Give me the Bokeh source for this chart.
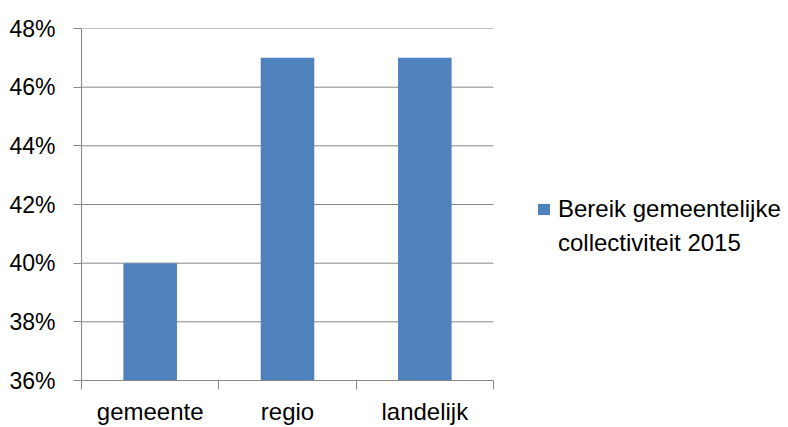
from bokeh.plotting import figure
from bokeh.models import FixedTicker, NumeralTickFormatter, Range1d, Legend, LegendItem, ColumnDataSource
from bokeh.embed import file_html
from bokeh.resources import INLINE

categories = ["gemeente", "regio", "landelijk"]
values = [0.40, 0.47, 0.47]
series_label_lines = ["Bereik gemeentelijke", "collectiviteit 2015"]
y_ticks = [0.36, 0.38, 0.40, 0.42, 0.44, 0.46, 0.48]

FONT = "Liberation Sans"
GRAY = "#868686"
BLUE = "#4F81BD"
FS_Y = "23px"
FS = "24px"

W, H = 788, 427
LEFT, TOP, BOTTOM = 81, 28, 47
AXIS_W = 412  # pixel width of the category axis
frame_w = W - LEFT
n = len(categories)
x_end = n * frame_w / AXIS_W

xs = [i + 0.5 for i in range(n)]
src = ColumnDataSource(dict(x=xs, top=values, cat=categories))

p = figure(width=W, height=H, output_backend="svg", toolbar_location=None,
           x_range=Range1d(0, x_end), y_range=Range1d(y_ticks[0], y_ticks[-1]),
           min_border_left=LEFT, min_border_right=0, min_border_top=TOP, min_border_bottom=BOTTOM)
p.outline_line_color = None
p.background_fill_color = "white"
p.border_fill_color = "white"

# horizontal gridlines limited to the category area
p.ygrid.grid_line_color = None
p.xgrid.grid_line_color = None
p.segment(x0=[0] * len(y_ticks), x1=[n] * len(y_ticks), y0=y_ticks, y1=y_ticks,
          line_color=GRAY, line_width=1)

r = p.vbar(x="x", top="top", bottom=y_ticks[0], width=0.39, source=src,
           fill_color=BLUE, line_color=None)
r_blank = p.vbar(x=[], top=[], bottom=y_ticks[0], width=0.39,
                 fill_alpha=0, line_alpha=0)

# y axis
p.yaxis.ticker = FixedTicker(ticks=y_ticks)
p.yaxis.formatter = NumeralTickFormatter(format="0%")
p.yaxis.axis_line_color = GRAY
p.yaxis.major_tick_line_color = GRAY
p.yaxis.major_tick_out = 8
p.yaxis.major_tick_in = 0
p.yaxis.minor_tick_line_color = None
p.yaxis.major_label_text_font = FONT
p.yaxis.major_label_text_font_size = FS_Y
p.yaxis.major_label_text_color = "black"
p.yaxis.major_label_standoff = 18

# x axis
p.xaxis.bounds = (0, n)
p.xaxis.ticker = FixedTicker(ticks=xs, minor_ticks=list(range(n + 1)))
p.xaxis.major_label_overrides = {x: c for x, c in zip(xs, categories)}
p.xaxis.axis_line_color = GRAY
p.xaxis.major_tick_line_color = None
p.xaxis.minor_tick_line_color = GRAY
p.xaxis.minor_tick_out = 9
p.xaxis.minor_tick_in = 0
p.xaxis.major_label_text_font = FONT
p.xaxis.major_label_text_font_size = FS
p.xaxis.major_label_text_color = "black"
p.xaxis.major_label_standoff = 8

legend = Legend(items=[LegendItem(label=series_label_lines[0], renderers=[r]),
                       LegendItem(label=series_label_lines[1], renderers=[r_blank])],
                location=(455, 123), padding=0, margin=0, spacing=6,
                border_line_color=None, background_fill_alpha=0,
                glyph_width=15, glyph_height=14, label_standoff=7, label_height=28,
                label_text_font=FONT, label_text_font_size=FS,
                label_text_color="black")
p.add_layout(legend)

open("out.html", "w").write(file_html(p, INLINE))
